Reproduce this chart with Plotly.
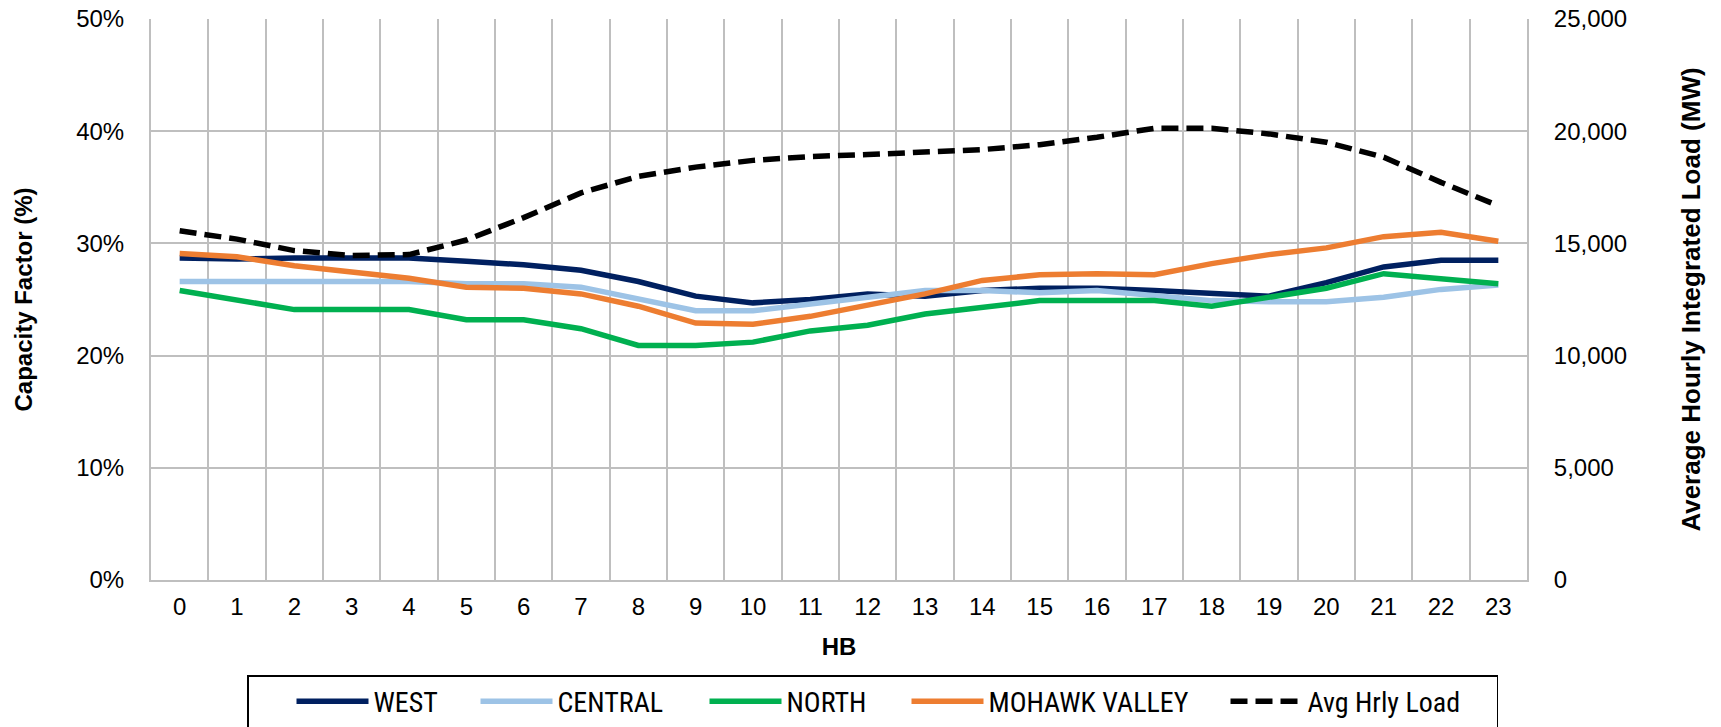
import plotly.graph_objects as go

# ---- data ----
hb = list(range(24))
west = [28.7, 28.6, 28.7, 28.7, 28.7, 28.4, 28.1, 27.6, 26.6, 25.3, 24.7, 25.0,
        25.5, 25.3, 25.8, 26.0, 26.0, 25.8, 25.5, 25.3, 26.5, 27.9, 28.5, 28.5]
central = [26.6, 26.6, 26.6, 26.6, 26.6, 26.4, 26.4, 26.1, 25.0, 24.0, 24.0, 24.6,
           25.3, 25.8, 25.8, 25.6, 25.8, 25.3, 24.9, 24.8, 24.8, 25.2, 25.9, 26.3]
north = [25.8, 24.9, 24.1, 24.1, 24.1, 23.2, 23.2, 22.4, 20.9, 20.9, 21.2, 22.2,
         22.7, 23.7, 24.3, 24.9, 24.9, 24.9, 24.4, 25.2, 26.0, 27.3, 26.9, 26.4]
mohawk = [29.1, 28.8, 28.0, 27.4, 26.9, 26.1, 26.0, 25.5, 24.4, 22.9, 22.8, 23.5,
          24.5, 25.5, 26.7, 27.2, 27.3, 27.2, 28.2, 29.0, 29.6, 30.6, 31.0, 30.2]
avg_load = [15560, 15190, 14680, 14460, 14500, 15150, 16150, 17250, 17990, 18400, 18700, 18870,
            18960, 19060, 19180, 19400, 19730, 20130, 20130, 19880, 19510, 18840, 17720, 16680]

series_names = ["WEST", "CENTRAL", "NORTH", "MOHAWK VALLEY", "Avg Hrly Load"]
series_colors = ["#002060", "#9DC3E6", "#00B050", "#ED7D31", "#000000"]
legend_widths = [54, 99, 72, 189, 184]

FONT = "Liberation Sans, Arial, sans-serif"
NARROW = "Liberation Sans Narrow, Arial Narrow, Roboto Condensed, DejaVu Sans Condensed, Liberation Sans, sans-serif"
GRID = "#BFBFBF"

fig = go.Figure()
for name, vals, col, lw in zip(series_names[:4], [west, central, north, mohawk],
                               series_colors[:4], legend_widths[:4]):
    fig.add_trace(go.Scatter(x=hb, y=vals, name=name, mode="lines",
                             line=dict(color=col, width=5.5), legendwidth=lw,
                             yaxis="y"))
fig.add_trace(go.Scatter(x=hb, y=avg_load, name=series_names[4], mode="lines",
                         line=dict(color=series_colors[4], width=5.5, dash="17px,8px"),
                         legendwidth=legend_widths[4], yaxis="y2"))

W, H = 1721, 727
L, R, T, B = 151, 194, 19, 147
PW, PH = W - L - R, H - T - B

fig.update_layout(
    width=W, height=H,
    margin=dict(l=L, r=R, t=T, b=B, autoexpand=False),
    paper_bgcolor="white", plot_bgcolor="white",
    font=dict(family=FONT, color="#000000", size=24),
    xaxis=dict(
        range=[-0.5, 23.5], tickmode="array", tickvals=hb, ticktext=[str(h) for h in hb],
        showgrid=False, zeroline=False, ticks="", ticklabelstandoff=4,
        showline=True, linecolor=GRID, linewidth=2,
        tickfont=dict(size=24, family=FONT),
        minor=dict(tickmode="array", tickvals=[h - 0.5 for h in hb] + [23.5],
                   showgrid=True, gridcolor=GRID, gridwidth=1.5, ticks=""),
        title=dict(text="<b>HB</b>", font=dict(size=24, family=FONT), standoff=19),
        automargin=False,
    ),
    yaxis=dict(
        range=[0, 50], tickmode="linear", tick0=0, dtick=10, ticksuffix="%",
        showgrid=True, gridcolor=GRID, gridwidth=1.5, zeroline=False,
        showline=True, linecolor=GRID, linewidth=2, ticks="", ticklabelstandoff=20,
        ticklabeloverflow="allow",
        tickfont=dict(size=24, family=FONT),
        title=dict(text="<b>Capacity Factor (%)</b>", font=dict(size=24, family=FONT), standoff=37),
        automargin=False,
    ),
    yaxis2=dict(
        range=[0, 25000], tickmode="linear", tick0=0, dtick=5000, tickformat=",d",
        overlaying="y", side="right", showgrid=False, zeroline=False,
        showline=True, linecolor=GRID, linewidth=2, ticks="", ticklabelstandoff=20,
        ticklabeloverflow="allow",
        tickfont=dict(size=24, family=FONT),
        title=dict(text="<b>Average Hourly Integrated Load (MW)</b>", font=dict(size=26, family=FONT), standoff=56),
        automargin=False,
    ),
    legend=dict(
        orientation="h", x=(247 - L) / PW, xanchor="left",
        y=(H - B - 675) / PH, yanchor="top",
        bordercolor="#000000", borderwidth=1.5, bgcolor="white",
        font=dict(family=NARROW, size=28), itemwidth=72, indentation=43,
        traceorder="normal", valign="middle",
    ),
    showlegend=True,
)

# remove the browser's default 8px page margin so the figure fills the window exactly
fig.write_html("out.html",
               config={"displayModeBar": False},
               post_script="document.body.style.margin='0';document.body.style.overflow='hidden';")
